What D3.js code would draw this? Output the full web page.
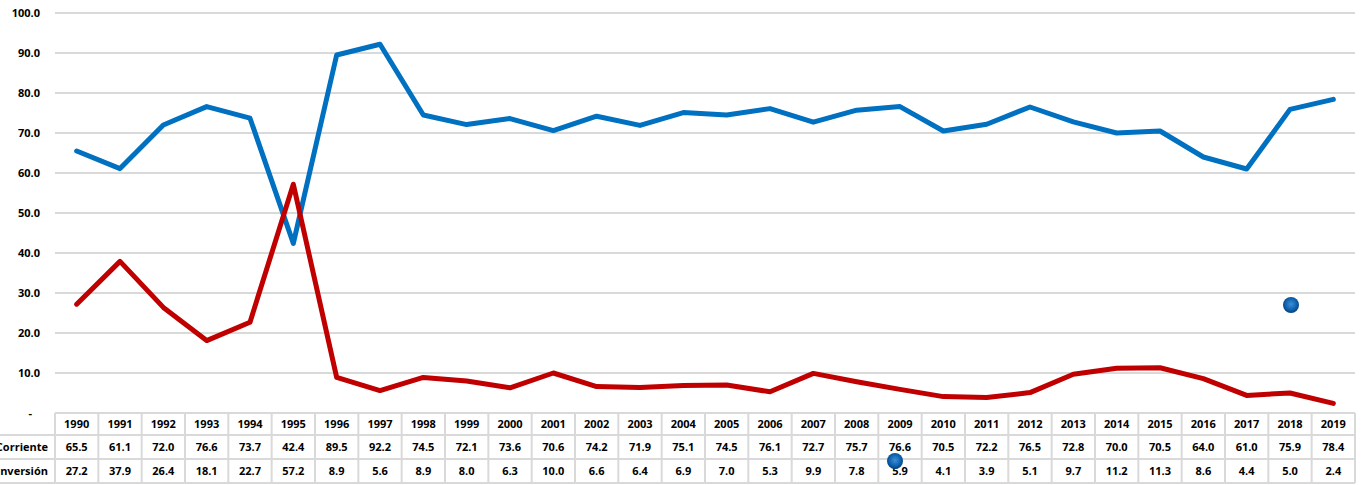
<!DOCTYPE html>
<html>
<head>
<meta charset="utf-8">
<script src="https://cdn.jsdelivr.net/npm/d3@7"></script>
<style>
  body { margin: 0; background: #fff; }
  svg { display: block; font-family: "Open Sans", "Liberation Sans", sans-serif; }
</style>
</head>
<body>
<div id="chart"></div>
<script>
let years = ['1990','1991','1992','1993','1994','1995','1996','1997','1998','1999','2000','2001','2002','2003','2004','2005','2006','2007','2008','2009','2010','2011','2012','2013','2014','2015','2016','2017','2018','2019'];
let corriente = [65.5,61.1,72.0,76.6,73.7,42.4,89.5,92.2,74.5,72.1,73.6,70.6,74.2,71.9,75.1,74.5,76.1,72.7,75.7,76.6,70.5,72.2,76.5,72.8,70.0,70.5,64.0,61.0,75.9,78.4];
let inversion = [27.2,37.9,26.4,18.1,22.7,57.2,8.9,5.6,8.9,8.0,6.3,10.0,6.6,6.4,6.9,7.0,5.3,9.9,7.8,5.9,4.1,3.9,5.1,9.7,11.2,11.3,8.6,4.4,5.0,2.4];
let yTicks = [0,10,20,30,40,50,60,70,80,90,100];
let seriesNames = ['Corriente','Inversión'];
let seriesColors = ['#0070C0','#C00000'];

let svgWidth = 1362, svgHeight = 485;
let margin = { top: 13, left: 55, right: 7 };
let plotBottom = 413;
let rowH = [22, 24, 24];

let svg = d3.select('#chart').append('svg')
  .attr('width', svgWidth)
  .attr('height', svgHeight);

let defs = svg.append('defs');
let grad = defs.append('radialGradient').attr('id', 'ball')
  .attr('cx', '50%').attr('cy', '45%').attr('r', '55%');
grad.append('stop').attr('offset', '0%').attr('stop-color', '#3f8fd6');
grad.append('stop').attr('offset', '70%').attr('stop-color', '#0a5eaa');
grad.append('stop').attr('offset', '100%').attr('stop-color', '#073f78');

let x = d3.scaleBand()
  .domain(years)
  .range([margin.left, svgWidth - margin.right]);

let y = d3.scaleLinear()
  .domain([0, 100])
  .range([plotBottom, margin.top]);

// gridlines
svg.append('g')
  .selectAll('line')
  .data(yTicks.filter(d => d > 0))
  .enter()
  .append('line')
  .attr('x1', margin.left)
  .attr('x2', svgWidth - margin.right)
  .attr('y1', d => y(d))
  .attr('y2', d => y(d))
  .attr('stroke', '#d9d9d9')
  .attr('stroke-width', 2);

// y axis labels
let leftAxis = d3.axisLeft(y)
  .tickValues(yTicks)
  .tickSize(0)
  .tickPadding(0)
  .tickFormat(d => d === 0 ? '-' : d3.format('.1f')(d));

svg.append('g')
  .attr('transform', 'translate(40,0)')
  .call(leftAxis)
  .call(g => g.select('.domain').remove())
  .selectAll('text')
  .attr('font-size', 11)
  .attr('font-weight', 700)
  .attr('fill', '#000')
  .attr('font-family', '"Open Sans", "Liberation Sans", sans-serif')
  .attr('dx', d => d === 0 ? -8 : 0);

// lines
let line = d3.line()
  .x((d, i) => x(years[i]) + x.bandwidth() / 2)
  .y(d => y(d));

[corriente, inversion].forEach(function(vals, i) {
  svg.append('path')
    .datum(vals)
    .attr('d', line)
    .attr('fill', 'none')
    .attr('stroke', seriesColors[i])
    .attr('stroke-width', 5)
    .attr('stroke-linejoin', 'round')
    .attr('stroke-linecap', 'round');
});

// data table
let table = svg.append('g');
let rowsData = [years, corriente.map(d => d.toFixed(1)), inversion.map(d => d.toFixed(1))];
let rowY = [plotBottom, plotBottom + rowH[0], plotBottom + rowH[0] + rowH[1]];
let tableBottom = rowY[2] + rowH[2];

rowsData.forEach(function(row, r) {
  table.selectAll(null)
    .data(row)
    .enter()
    .append('text')
    .attr('x', (d, i) => x(years[i]) + x.bandwidth() / 2)
    .attr('y', rowY[r] + rowH[r] / 2)
    .attr('dy', '0.36em')
    .attr('text-anchor', 'middle')
    .attr('font-size', 11)
    .attr('font-weight', 700)
    .text(d => d);
});

seriesNames.forEach(function(name, i) {
  table.append('text')
    .attr('x', 48)
    .attr('y', rowY[i + 1] + rowH[i + 1] / 2)
    .attr('dy', '0.36em')
    .attr('text-anchor', 'end')
    .attr('font-size', 11)
    .attr('font-weight', 700)
    .text(name);
});

// table borders
let xEdges = years.map(d => x(d)).concat([x.range()[1]]);
table.selectAll('.vline')
  .data(xEdges)
  .enter()
  .append('line')
  .attr('x1', d => d).attr('x2', d => d)
  .attr('y1', plotBottom).attr('y2', tableBottom)
  .attr('stroke', '#d9d9d9').attr('stroke-width', 2);

table.selectAll('.hline')
  .data([plotBottom, rowY[1], rowY[2], tableBottom])
  .enter()
  .append('line')
  .attr('x1', 0).attr('x2', x.range()[1])
  .attr('y1', d => d).attr('y2', d => d)
  .attr('stroke', '#d9d9d9').attr('stroke-width', 2)
  .attr('x1', (d, i) => i === 0 ? margin.left : 0);

// stray decorative markers seen in the picture
[[1291, 305], [895, 461]].forEach(function(p) {
  svg.append('circle')
    .attr('cx', p[0]).attr('cy', p[1])
    .attr('r', 8)
    .attr('fill', 'url(#ball)');
});
</script>
</body>
</html>
